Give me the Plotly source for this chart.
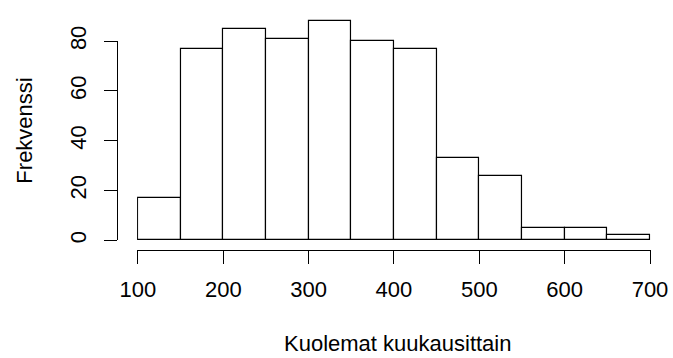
import plotly.graph_objects as go

bin_edges = [100, 150, 200, 250, 300, 350, 400, 450, 500, 550, 600, 650, 700]
counts = [17, 77, 85, 81, 88, 80, 77, 33, 26, 5, 5, 2]
x_ticks = [100, 200, 300, 400, 500, 600, 700]
y_ticks = [0, 20, 40, 60, 80]
x_title = "Kuolemat kuukausittain"
y_title = "Frekvenssi"

centers = [(a + b) / 2 for a, b in zip(bin_edges[:-1], bin_edges[1:])]
widths = [b - a for a, b in zip(bin_edges[:-1], bin_edges[1:])]

W, H = 673, 358
ML, MR, MT, MB = 117, 19, 3, 108
pw = W - ML - MR
ph = H - MT - MB
zero_px = 239.7
px_per_unit = 213 / 80.0
x_px_per_unit = 514 / 600.0
x0_px = 138
pad_units = 1  # keeps bar outlines at the edges from being clipped

FONT = "Liberation Sans, Arial, sans-serif"
FS = 22

fig = go.Figure()
fig.add_trace(go.Bar(
    x=centers, y=counts, width=widths,
    marker=dict(color="white", line=dict(color="black", width=1.2)),
    xaxis="x", yaxis="y", showlegend=False, hoverinfo="skip",
))
# dummy trace to bind the R-style y axis
fig.add_trace(go.Scatter(x=[None], y=[None], xaxis="x", yaxis="y2",
                         showlegend=False, hoverinfo="skip"))

y_lo = -((H - MB) - zero_px) / px_per_unit
y_hi = (zero_px - MT) / px_per_unit

d_lo = ((H - MB) - zero_px) / ph
d_hi = ((H - MB) - (zero_px - 80 * px_per_unit)) / ph

x_lo = bin_edges[0] - pad_units
x_hi = bin_edges[-1] + pad_units
xd_lo = (x0_px - pad_units * x_px_per_unit - ML) / pw
xd_hi = xd_lo + (x_hi - x_lo) * x_px_per_unit / pw

fig.update_layout(
    width=W, height=H,
    margin=dict(l=ML, r=MR, t=MT, b=MB, pad=0),
    plot_bgcolor="rgba(0,0,0,0)", paper_bgcolor="white",
    bargap=0,
    font=dict(family=FONT, size=FS, color="black"),
    xaxis=dict(
        domain=[xd_lo, min(xd_hi, 1)],
        range=[x_lo, x_hi],
        tickvals=x_ticks, ticktext=[str(v) for v in x_ticks],
        showline=True, linecolor="black", linewidth=1,
        ticks="outside", ticklen=13, tickcolor="black", tickwidth=1,
        ticklabelstandoff=7,
        showgrid=False, zeroline=False, anchor="y",
        tickfont=dict(family=FONT, size=FS, color="black"),
    ),
    yaxis=dict(
        range=[y_lo, y_hi], visible=False, showgrid=False, zeroline=False,
    ),
    yaxis2=dict(
        domain=[d_lo, d_hi], range=[0, 80], anchor="free", position=0,
        tickvals=y_ticks, ticktext=[str(v) for v in y_ticks],
        showline=True, linecolor="black", linewidth=1,
        ticks="outside", ticklen=13, tickcolor="black", tickwidth=1,
        ticklabelstandoff=9,
        tickangle=-90, showgrid=False, zeroline=False,
        tickfont=dict(family=FONT, size=FS, color="black"),
    ),
    annotations=[
        dict(text=x_title, xref="paper", yref="paper",
             x=(398.3 - ML) / pw, y=((H - MB) - 350) / ph,
             xanchor="center", yanchor="middle", showarrow=False,
             font=dict(family=FONT, size=FS, color="black")),
        dict(text=y_title, xref="paper", yref="paper",
             x=(24 - ML) / pw, y=((H - MB) - 122) / ph,
             xanchor="center", yanchor="middle", textangle=-90, showarrow=False,
             font=dict(family=FONT, size=FS, color="black")),
    ],
)

fig.write_html("out.html", config={"displayModeBar": False},
               post_script="document.body.style.margin='0';document.body.style.overflow='hidden';")
